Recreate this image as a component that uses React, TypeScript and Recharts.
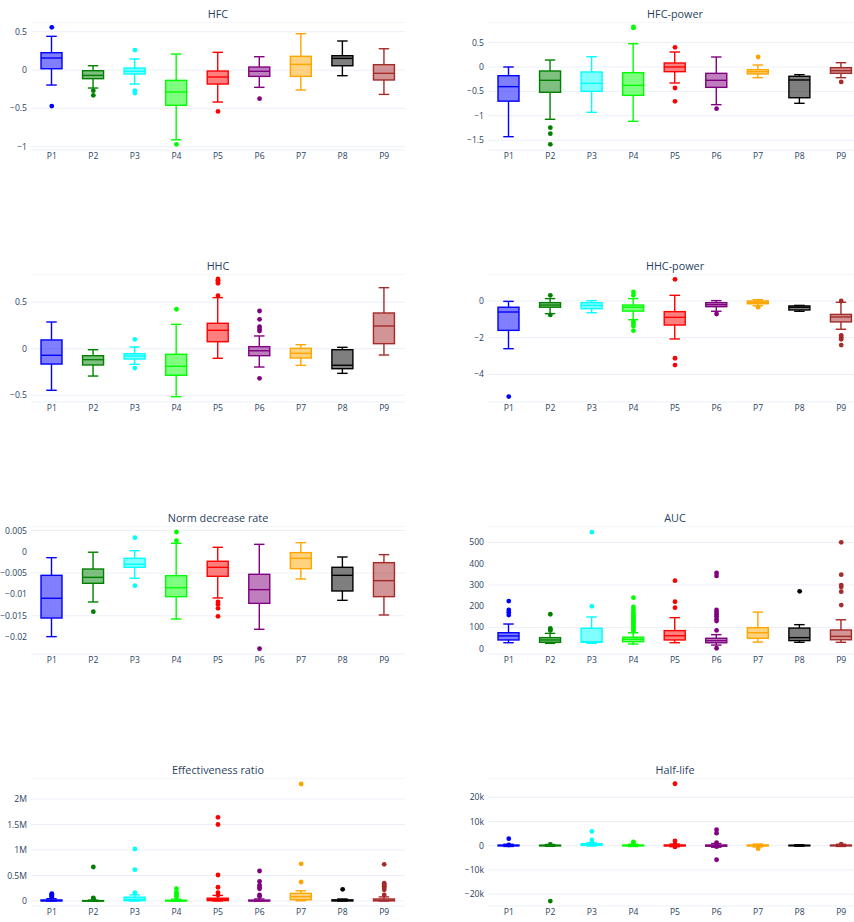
import React from "react";
import { ComposedChart, Bar, Scatter, XAxis, YAxis, CartesianGrid } from "recharts";

const CATEGORIES = ["P1", "P2", "P3", "P4", "P5", "P6", "P7", "P8", "P9"];
const COLORS = ["#0000ff", "#008000", "#00ffff", "#00ff00", "#ff0000", "#800080", "#ffa500", "#000000", "#a52a2a"];

// box stats per category: [lower whisker, q1, median, q3, upper whisker]
const HFC_BOXES = [
  [-0.196, 0.017, 0.157, 0.226, 0.44],
  [-0.235, -0.113, -0.07, -0.009, 0.056],
  [-0.183, -0.052, -0.017, 0.026, 0.144],
  [-0.91, -0.461, -0.287, -0.135, 0.209],
  [-0.418, -0.183, -0.091, -0.013, 0.231],
  [-0.226, -0.083, -0.017, 0.039, 0.174],
  [-0.261, -0.083, 0.074, 0.179, 0.474],
  [-0.074, 0.056, 0.152, 0.187, 0.379],
  [-0.318, -0.13, -0.043, 0.07, 0.278],
];
const HFC_OUTLIERS = [[0.557, -0.47], [-0.27, -0.33], [0.26, -0.27, -0.3], [-0.97], [-0.54], [-0.374], [], [], []];

const HFC_POWER_BOXES = [
  [-1.428, -0.7, -0.403, -0.178, 0],
  [-1.072, -0.519, -0.273, -0.082, 0.143],
  [-0.929, -0.499, -0.335, -0.102, 0.211],
  [-1.113, -0.581, -0.376, -0.116, 0.478],
  [-0.328, -0.096, 0, 0.082, 0.307],
  [-0.772, -0.417, -0.273, -0.13, 0.205],
  [-0.219, -0.143, -0.096, -0.055, 0.041],
  [-0.744, -0.63, -0.266, -0.19, -0.157],
  [-0.219, -0.13, -0.076, -0.014, 0.088],
];
const HFC_POWER_OUTLIERS = [[], [-1.243, -1.366, -1.584], [], [0.8, 0.82], [0.403, -0.43, -0.703], [-0.854], [0.205], [], [-0.307]];

const HHC_BOXES = [
  [-0.447, -0.165, -0.071, 0.094, 0.287],
  [-0.294, -0.175, -0.118, -0.075, -0.011],
  [-0.168, -0.111, -0.078, -0.054, 0.018],
  [-0.516, -0.286, -0.189, -0.06, 0.262],
  [-0.103, 0.075, 0.198, 0.273, 0.549],
  [-0.197, -0.075, -0.022, 0.022, 0.137],
  [-0.179, -0.1, -0.049, 0.004, 0.043],
  [-0.265, -0.215, -0.178, -0.011, 0.015],
  [-0.068, 0.054, 0.244, 0.384, 0.656],
];
const HHC_OUTLIERS = [[], [], [0.101, -0.208], [0.424], [0.749, 0.735, 0.72, 0.703, 0.57], [0.405, 0.316, 0.237, 0.212, 0.19, -0.318], [], [], []];

const HHC_POWER_BOXES = [
  [-2.6, -1.6, -0.6, -0.34, -0.02],
  [-0.69, -0.34, -0.22, -0.09, 0.13],
  [-0.64, -0.42, -0.24, -0.09, 0.02],
  [-1.02, -0.55, -0.34, -0.22, 0.13],
  [-2.07, -1.31, -0.89, -0.58, 0.31],
  [-0.56, -0.31, -0.2, -0.09, 0.02],
  [-0.26, -0.15, -0.07, 0, 0.07],
  [-0.56, -0.49, -0.34, -0.27, -0.24],
  [-1.54, -1.14, -0.87, -0.73, -0.07],
];
const HHC_POWER_OUTLIERS = [[-5.21], [0.31, -0.76], [], [0.49, 0.31, -1.13, -1.25, -1.36, -1.62], [1.18, -3.12, -3.49], [-0.71], [-0.34], [], [0, -1.87, -1.98, -2.09, -2.4]];

const NORM_BOXES = [
  [-0.0199, -0.01553, -0.0109, -0.00552, -0.00138],
  [-0.01177, -0.00739, -0.00599, -0.00404, -0.0001],
  [-0.00622, -0.00364, -0.00293, -0.00153, 0.00026],
  [-0.01576, -0.01052, -0.00841, -0.0056, 0.00199],
  [-0.01083, -0.00575, -0.00364, -0.00222, 0.00105],
  [-0.01818, -0.01209, -0.00888, -0.00528, 0.00175],
  [-0.00638, -0.00396, -0.00153, -0.0002, 0.00214],
  [-0.01138, -0.00919, -0.00552, -0.00364, -0.00122],
  [-0.01482, -0.01052, -0.00677, -0.00255, -0.00067],
];
const NORM_OUTLIERS = [[], [-0.01404], [0.00331, -0.00794], [0.00464, 0.0026], [-0.01177, -0.0123, -0.01326, -0.01513], [-0.02272], [], [], []];

const AUC_BOXES = [
  [28, 41, 60, 75, 116],
  [25, 30, 41, 52, 72],
  [25, 30, 33, 96, 149],
  [22, 33, 44, 54, 75],
  [28, 41, 61, 85, 146],
  [17, 28, 38, 49, 66],
  [31, 49, 75, 99, 172],
  [30, 38, 52, 97, 113],
  [30, 42, 58, 88, 136],
];
const AUC_OUTLIERS = [
  [224, 182, 171, 158],
  [162, 95, 90, 85],
  [548, 199],
  [240, 197, 185, 172, 164, 156, 148, 140, 132, 124, 116, 108, 100, 92, 84],
  [320, 221, 193],
  [356, 342, 182, 172, 162, 152, 140, 130, 86, 2],
  [],
  [270],
  [500, 348, 299, 290, 268, 205],
];

const EFF_BOXES = [
  [0, 2000, 8000, 20000, 45000],
  [0, 1000, 3000, 8000, 18000],
  [0, 8000, 30000, 75000, 120000],
  [0, 1000, 5000, 15000, 35000],
  [0, 8000, 25000, 55000, 110000],
  [0, 1000, 5000, 18000, 40000],
  [5000, 25000, 85000, 150000, 200000],
  [0, 2000, 10000, 22000, 40000],
  [0, 3000, 15000, 40000, 80000],
];
const EFF_OUTLIERS = [
  [70000, 90000, 110000, 130000, 145000],
  [30000, 45000, 60000, 667000],
  [163000, 614000, 1020000],
  [80000, 110000, 140000, 170000, 241000],
  [120000, 165000, 270000, 510000, 1500000, 1640000],
  [90000, 120000, 240000, 270000, 310000, 386000, 588000],
  [373000, 730000, 2294000],
  [229000],
  [120000, 220000, 260000, 290000, 320000, 350000, 720000],
];

const HALF_BOXES = [
  [-300, -50, 100, 250, 600],
  [-250, -50, 80, 220, 500],
  [-100, 150, 400, 800, 1200],
  [-300, -50, 100, 250, 600],
  [-400, -100, 100, 300, 700],
  [-600, -200, 50, 300, 900],
  [-500, -100, 100, 300, 700],
  [-200, 0, 80, 200, 400],
  [-300, -50, 100, 250, 600],
];
const HALF_OUTLIERS = [
  [2900, 300],
  [570, -22850],
  [5950, 2400, 1400],
  [1600, 1000, 500],
  [25600, 1950, 600, -500],
  [6600, 5200, 1300, 400, -400, -5800],
  [-1200],
  [],
  [700],
];

const FONT = '"Open Sans", verdana, arial, sans-serif';
const TEXT = "#2a3f5f";
const GRID = "#EBF0F8";

const plain = (v: number) => (v < 0 ? "\u2212" : "") + String(Math.abs(v));
const mega = (v: number) => (v === 0 ? "0" : plain(v / 1e6) + "M");
const kilo = (v: number) => (v === 0 ? "0" : plain(v / 1e3) + "k");

function BoxShape(props: any) {
  const { x, y, width, height } = props;
  const d = props.payload ?? props;
  if (x == null || y == null || !isFinite(y) || !isFinite(height)) return <g />;
  const color = COLORS[CATEGORIES.indexOf(d.name)];
  const top = Math.min(y, y + height);
  const h = Math.abs(height);
  const span = d.hi - d.lo;
  const py = (v: number) => (span === 0 ? top : top + (h * (d.hi - v)) / span);
  const cx = x + width / 2;
  const cap = width / 4;
  const sw = 1.4;
  return (
    <g>
      <line x1={cx} x2={cx} y1={py(d.hi)} y2={py(d.q3)} stroke={color} strokeWidth={sw} />
      <line x1={cx} x2={cx} y1={py(d.q1)} y2={py(d.lo)} stroke={color} strokeWidth={sw} />
      <line x1={cx - cap} x2={cx + cap} y1={py(d.hi)} y2={py(d.hi)} stroke={color} strokeWidth={sw} />
      <line x1={cx - cap} x2={cx + cap} y1={py(d.lo)} y2={py(d.lo)} stroke={color} strokeWidth={sw} />
      <rect
        x={x}
        y={py(d.q3)}
        width={width}
        height={Math.max(py(d.q1) - py(d.q3), 0.5)}
        fill={color}
        fillOpacity={0.5}
        stroke={color}
        strokeWidth={sw}
      />
      <line x1={x} x2={x + width} y1={py(d.med)} y2={py(d.med)} stroke={color} strokeWidth={sw} />
    </g>
  );
}

function Dot(props: any) {
  const d = props.payload ?? {};
  if (props.cx == null || props.cy == null || !isFinite(props.cx) || !isFinite(props.cy)) return <g />;
  const color = COLORS[CATEGORIES.indexOf(d.name)];
  return <circle cx={props.cx} cy={props.cy} r={2.4} fill={color} />;
}

type PanelProps = {
  title: string;
  boxes: number[][];
  outliers: number[][];
  domain: [number, number];
  ticks: number[];
  fmt: (v: number) => string;
  left: number;
  top: number;
  yAxisWidth: number;
  width: number;
};

function BoxPanel({ title, boxes, outliers, domain, ticks, fmt, left, top, yAxisWidth, width }: PanelProps) {
  const maxOut = Math.max(...outliers.map((o) => o.length));
  const slots = Array.from({ length: maxOut }, (_, k) => `o${k}`);
  const rows = CATEGORIES.map((name, i) => {
    const row: any = {
      name,
      lo: boxes[i][0],
      q1: boxes[i][1],
      med: boxes[i][2],
      q3: boxes[i][3],
      hi: boxes[i][4],
      range: [boxes[i][0], boxes[i][4]],
    };
    outliers[i].forEach((v, k) => (row[`o${k}`] = v));
    return row;
  });
  const plotLeft = left + yAxisWidth;
  const plotWidth = width - yAxisWidth - 5;

  return (
    <>
      <div
        style={{
          position: "absolute",
          left: plotLeft,
          width: plotWidth,
          top: top - 16,
          height: 16,
          lineHeight: "16px",
          textAlign: "center",
          fontFamily: FONT,
          fontSize: 10.8,
          color: TEXT,
        }}
      >
        {title}
      </div>
      <div style={{ position: "absolute", left, top }}>
        <ComposedChart width={width} height={148} data={rows} margin={{ top: 0, right: 5, bottom: 0, left: 0 }}>
          <CartesianGrid vertical={false} stroke={GRID} strokeWidth={1} />
          <XAxis
            dataKey="name"
            type="category"
            axisLine={false}
            tickLine={false}
            tickSize={0}
            tickMargin={3}
            height={20}
            interval={0}
            tick={{ fontSize: 8.6, fill: TEXT, fontFamily: FONT }}
          />
          <YAxis
            type="number"
            domain={domain}
            ticks={ticks}
            allowDataOverflow
            axisLine={false}
            tickLine={false}
            tickSize={0}
            tickMargin={4}
            width={yAxisWidth}
            tickFormatter={fmt}
            tick={{ fontSize: 8.6, fill: TEXT, fontFamily: FONT }}
          />
          <Bar dataKey="range" barSize={21} shape={BoxShape} isAnimationActive={false} />
          {slots.map((key) => (
            <Scatter key={key} dataKey={key} shape={Dot} isAnimationActive={false} />
          ))}
        </ComposedChart>
      </div>
    </>
  );
}

export default function App() {
  const L = { left: 0, yAxisWidth: 31, width: 410 };
  const R = { left: 448, yAxisWidth: 40, width: 419 };
  return (
    <div
      style={{
        position: "fixed",
        left: 0,
        top: 0,
        width: 854,
        height: 922,
        overflow: "hidden",
        background: "#fff",
      }}
    >
      <BoxPanel title="HFC" boxes={HFC_BOXES} outliers={HFC_OUTLIERS} domain={[-1.044, 0.627]} ticks={[-1, -0.5, 0, 0.5]} fmt={plain} top={22} {...L} />
      <BoxPanel title="HFC-power" boxes={HFC_POWER_BOXES} outliers={HFC_POWER_OUTLIERS} domain={[-1.701, 0.922]} ticks={[-1.5, -1, -0.5, 0, 0.5]} fmt={plain} top={22} {...R} />
      <BoxPanel title="HHC" boxes={HHC_BOXES} outliers={HHC_OUTLIERS} domain={[-0.573, 0.803]} ticks={[-0.5, 0, 0.5]} fmt={plain} top={274} {...L} />
      <BoxPanel title="HHC-power" boxes={HHC_POWER_BOXES} outliers={HHC_POWER_OUTLIERS} domain={[-5.504, 1.471]} ticks={[-4, -2, 0]} fmt={plain} top={274} {...R} />
      <BoxPanel title="Norm decrease rate" boxes={NORM_BOXES} outliers={NORM_OUTLIERS} domain={[-0.02397, 0.00605]} ticks={[-0.02, -0.015, -0.01, -0.005, 0, 0.005]} fmt={plain} top={526} {...L} />
      <BoxPanel title="AUC" boxes={AUC_BOXES} outliers={AUC_OUTLIERS} domain={[-25, 577]} ticks={[0, 100, 200, 300, 400, 500]} fmt={plain} top={526} {...R} />
      <BoxPanel title="Effectiveness ratio" boxes={EFF_BOXES} outliers={EFF_OUTLIERS} domain={[-98000, 2412000]} ticks={[0, 500000, 1000000, 1500000, 2000000]} fmt={mega} top={778} {...L} />
      <BoxPanel title="Half-life" boxes={HALF_BOXES} outliers={HALF_OUTLIERS} domain={[-24900, 27980]} ticks={[-20000, -10000, 0, 10000, 20000]} fmt={kilo} top={778} {...R} />
    </div>
  );
}
